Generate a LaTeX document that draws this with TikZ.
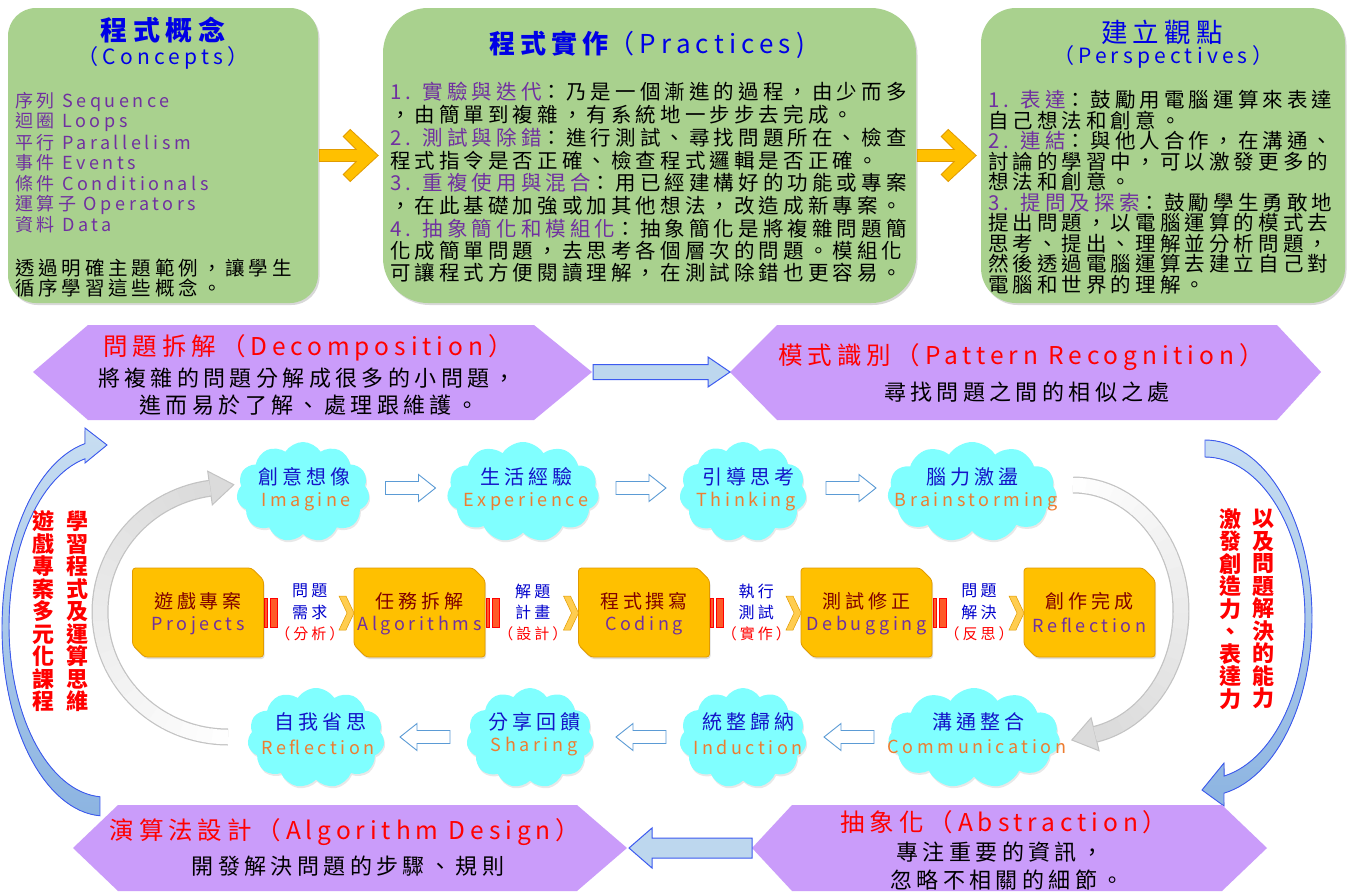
\documentclass[tikz,border=0pt]{standalone}
\usepackage{fontspec}
\setmainfont{Noto Sans CJK TC}[LetterSpace=20]
\usetikzlibrary{shapes.symbols,shadows}
\definecolor{gfill}{RGB}{169,209,142}
\definecolor{tblue}{RGB}{0,0,230}
\definecolor{pur}{RGB}{112,48,160}
\definecolor{hexf}{RGB}{202,156,250}
\definecolor{cyanf}{RGB}{128,255,255}
\definecolor{cblue}{RGB}{20,20,200}
\definecolor{corange}{RGB}{237,125,49}
\definecolor{obox}{RGB}{255,192,0}
\definecolor{oboxd}{RGB}{225,155,0}
\definecolor{dred}{RGB}{128,0,0}
\definecolor{abl}{RGB}{91,155,213}
\definecolor{lbl}{RGB}{189,215,238}
\definecolor{bline}{RGB}{60,90,240}
\definecolor{arcf}{RGB}{140,180,225}
\definecolor{arcl}{RGB}{200,222,242}
\definecolor{grl}{RGB}{195,195,195}
\definecolor{stripef}{RGB}{255,90,40}
\definecolor{chevf}{RGB}{255,205,80}
\definecolor{lblue}{RGB}{0,0,204}
\newcommand\fsz[1]{\fontsize{#1}{#1}\selectfont}
\newcommand\mkobox[4]{%
  \begin{scope}[shift={(#2,612.5)}]
    \filldraw[fill=obox,draw=oboxd,line width=0.8pt,rounded corners=3pt,
      drop shadow={shadow xshift=1pt,shadow yshift=-2pt,opacity=0.25}]
      (-65.5,-44.5) -- (53.5,-44.5) -- (65.5,-32.5) -- (65.5,44.5) -- (-53.5,44.5) -- (-65.5,32.5) -- cycle;
    \coordinate (#1) at (0,0);
    \node[inner sep=0pt,text=dred,font=\fsz{19}] (#1a) at (0,-11.5) {#3};
    \node[inner sep=0pt,text=pur,font=\fsz{18}] (#1b) at (0,13) {#4};
  \end{scope}}
\newcommand\mkgap[6]{%
  \filldraw[fill=stripef,draw=red,line width=0.6pt] ({#1+1},598) rectangle ({#1+4},627);
  \filldraw[fill=stripef,draw=red,line width=0.6pt] ({#1+7},598) rectangle ({#1+14},627);
  \filldraw[fill=chevf,draw=oboxd,line width=0.5pt] ({#2-15},596) -- ({#2-8},596) -- ({#2},613) -- ({#2-8},630) -- ({#2-15},630) -- ({#2-7},613) -- cycle;
  \node[inner sep=0pt,text=lblue,font=\fsz{16}] (#6a) at ({(#1+#2)/2+1},591) {#3};
  \node[inner sep=0pt,text=lblue,font=\fsz{16}] (#6b) at ({(#1+#2)/2+1},612) {#4};
  \node[inner sep=0pt,text=red,font=\fsz{15}] (#6c) at ({(#1+#2)/2+1},634) {#5};}
\newcommand\mkharrow[4]{%
  \begin{scope}[shift={(#2,#3)},xscale=#4]
    \filldraw[fill=white,draw=abl,line width=0.9pt] (-25,-6.5) -- (8,-6.5) -- (8,-13.5) -- (25,0) -- (8,13.5) -- (8,6.5) -- (-25,6.5) -- cycle;
    \coordinate (#1) at (0,0);
  \end{scope}}
\begin{document}
\begin{tikzpicture}[x=1pt,y=-1pt,
  tx/.style={inner sep=0pt,outer sep=0pt},
  gbox/.style={fill=gfill,draw=none,drop shadow={shadow xshift=1.5pt,shadow yshift=-2pt,opacity=0.3}},
  cloudn/.style={cloud,cloud puffs=11,cloud puff arc=115,cloud ignores aspect,fill=cyanf,draw=none,inner sep=0pt,
    drop shadow={shadow xshift=1pt,shadow yshift=-2pt,opacity=0.18}},
  hexa/.style={fill=hexf,draw=none},
  barrow/.style={fill=lbl,draw=bline,line width=1pt},
  oarrow/.style={fill=obox,draw=oboxd,line width=0.8pt},
  ccj/.style={tx,text=cblue,font=\fsz{20}},
  clat/.style={tx,text=corange,font=\fsz{18}},
  vt/.style={tx,text=red,align=center,font=\bfseries\fontsize{22}{22.5}\selectfont},
  htitle/.style={tx,text=red,font=\fsz{24.5}},
  hsub/.style={tx,text=black,font=\fsz{22}}]
\useasboundingbox (0,0) rectangle (1352,894);
\fill[white] (0,0) rectangle (1352,894);

% ---------- top green boxes ----------
\node[gbox,rounded corners=28pt,minimum width=310pt,minimum height=295pt] (box1) at (163,155.5) {};
\node[gbox,rounded corners=45pt,minimum width=533pt,minimum height=295pt] (box2) at (649.5,155.5) {};
\node[gbox,rounded corners=35pt,minimum width=364pt,minimum height=295pt] (box3) at (1163,155.5) {};

\filldraw[oarrow,shift={(box1.east)}] (1,-6) -- (38,-6) -- (25,-19) -- (32,-26) -- (60,0) -- (32,26) -- (25,19) -- (38,6) -- (1,6) -- cycle;
\filldraw[oarrow,shift={(box2.east)}] (1,-6) -- (38,-6) -- (25,-19) -- (32,-26) -- (60,0) -- (32,26) -- (25,19) -- (38,6) -- (1,6) -- cycle;

% box 1
\node[tx,text=tblue,font=\bfseries\fsz{27}] (b1t) at (163,30) {程式概念};
\node[tx,text=tblue,font=\fsz{21}] (b1s) at (163,58) {（Concepts）};
\foreach \i/\yy/\tx in {1/102/序列 Sequence,2/122/迴圈 Loops,3/143/平行 Parallelism,4/163/事件 Events,5/184/條件 Conditionals,6/205/運算子 Operators,7/225/資料 Data}
  \node[tx,anchor=west,text=pur,font=\fsz{18}] (b1l\i) at (15,\yy) {\tx};
\node[tx,anchor=west,font=\fsz{19.5}] (b1e1) at (15,268) {透過明確主題範例，讓學生};
\node[tx,anchor=west,font=\fsz{19.5}] (b1e2) at (15,288) {循序學習這些概念。};

% box 2
\node[tx,text=tblue,font=\fsz{26}] (b2t) at (647,45) {{\bfseries 程式實作}（Practices)};
\foreach \i/\yy/\tx in {1/92/{{\color{pur}1. 實驗與迭代}：乃是一個漸進的過程，由少而多},
  2/115/{，由簡單到複雜，有系統地一步步去完成。},
  3/138/{{\color{pur}2. 測試與除錯}：進行測試、尋找問題所在、檢查},
  4/161/{程式指令是否正確、檢查程式邏輯是否正確。},
  5/183/{{\color{pur}3. 重複使用與混合}：用已經建構好的功能或專案},
  6/206/{，在此基礎加強或加其他想法，改造成新專案。},
  7/229/{{\color{pur}4. 抽象簡化和模組化}：抽象簡化是將複雜問題簡},
  8/251/{化成簡單問題，去思考各個層次的問題。模組化},
  9/273/{可讓程式方便閱讀理解，在測試除錯也更容易。}}
  \node[tx,anchor=west,font=\fsz{20.5}] (b2l\i) at (390,\yy) {\tx};

% box 3
\node[tx,text=tblue,font=\fsz{26.5}] (b3t) at (1162,32) {建立觀點};
\node[tx,text=tblue,font=\fsz{21}] (b3s) at (1163,57) {（Perspectives）};
\foreach \i/\yy/\tx in {1/100/{{\color{pur}1. 表達}：鼓勵用電腦運算來表達},
  2/121/{自己想法和創意。},
  3/141/{{\color{pur}2. 連結}：與他人合作，在溝通、},
  4/162/{討論的學習中，可以激發更多的},
  5/182/{想法和創意。},
  6/203/{{\color{pur}3. 提問及探索}：鼓勵學生勇敢地},
  7/223/{提出問題，以電腦運算的模式去},
  8/244/{思考、提出、理解並分析問題，},
  9/264/{然後透過電腦運算去建立自己對},
  10/285/{電腦和世界的理解。}}
  \node[tx,anchor=west,font=\fsz{20.5}] (b3l\i) at (988,\yy) {\tx};

% ---------- blue crescent arrows ----------
\filldraw[top color=arcl,bottom color=arcf,draw=bline,line width=0.9pt]
  plot[domain=258.8:92.8,samples=60] ({105+103*cos(\x)},{628+188*sin(\x)})
  -- plot[domain=93:258,samples=60] ({105+96*cos(\x)},{626+171*sin(\x)})
  -- (85,463) -- (107,445) -- (85,428) -- cycle;
\filldraw[top color=arcl,bottom color=arcf,draw=bline,line width=0.9pt]
  plot[domain=270:439.8,samples=60] ({1205+107*cos(\x)},{618+178*sin(\x)})
  -- (1224,806) -- (1202,790) -- (1224,763)
  -- plot[domain=439:270,samples=60] ({1205+100*cos(\x)},{618+161*sin(\x)}) -- cycle;

% ---------- hexagons ----------
\fill[hexa] (33,372) -- (88,325) -- (534,325) -- (592,372) -- (534,420) -- (88,420) -- cycle;
\fill[hexa] (730,372) -- (777,325) -- (1277,325) -- (1321,372) -- (1277,420) -- (777,420) -- cycle;
\fill[hexa] (73,848) -- (118,805) -- (577,805) -- (627,848) -- (577,891) -- (118,891) -- cycle;
\fill[hexa] (752,848) -- (792,805) -- (1222,805) -- (1267,848) -- (1222,891) -- (792,891) -- cycle;
\coordinate (decR) at (592,372);
\coordinate (patL) at (730,372);
\coordinate (absL) at (752,848);
\coordinate (algR) at (629,848);
\filldraw[barrow] (decR) ++(1,-7.5) -- (708,364.5) -- (708,357) -- (patL) -- (708,387) -- (708,379.5) -- (593,379.5) -- cycle;
\filldraw[barrow] (absL) ++(0,-10) -- (652,838) -- (652,828) -- (algR) -- (652,868) -- (652,858) -- (752,858) -- cycle;

\node[htitle] (dect) at (308,348) {問題拆解（Decomposition）};
\node[hsub] (dec1) at (307,378) {將複雜的問題分解成很多的小問題，};
\node[hsub] (dec2) at (309,405) {進而易於了解、處理跟維護。};
\node[htitle] (patt) at (1021,357) {模式識別（Pattern Recognition）};
\node[hsub] (pat1) at (1027,392) {尋找問題之間的相似之處};
\node[htitle] (algt) at (345,832) {演算法設計（Algorithm Design）};
\node[hsub] (alg1) at (348,866) {開發解決問題的步驟、規則};
\node[htitle] (abst) at (1004,822) {抽象化（Abstraction）};
\node[hsub] (abs1) at (1000,852) {專注重要的資訊，};
\node[hsub] (abs2) at (1007,880) {忽略不相關的細節。};

% ---------- vertical texts ----------
\node[vt] (vl1) at (77.5,611.5) {學\\習\\程\\式\\及\\運\\算\\思\\維};
\node[vt] (vl2) at (43.5,611.5) {遊\\戲\\專\\案\\多\\元\\化\\課\\程};
\node[vt] (vr1) at (1263.5,609) {以\\及\\問\\題\\解\\決\\的\\能\\力};
\node[vt] (vr2) at (1230,609) {激\\發\\創\\造\\力\\、\\表\\達\\力};

% ---------- gray circular arrows (white tail to grey head) ----------
\draw[line width=17pt,color=grl] plot[domain=90:262,samples=60] ({228+128*cos(\x)},{612+125*sin(\x)});
\filldraw[fill=gray!28,draw=grl,line width=1pt] (207.7,471.2) -- (233.8,484.7) -- (212.3,504.8) -- cycle;
\foreach \k in {0,...,23}{
  \pgfmathsetmacro\aa{90+\k*7.1667}
  \pgfmathsetmacro\bb{min(\aa+8,262)}
  \pgfmathsetmacro\mm{1+\k*1.2}
  \draw[line width=14.5pt,color=gray!\mm] plot[domain=\aa:\bb,samples=6] ({228+128*cos(\x)},{612+125*sin(\x)});
}
\draw[line width=17pt,color=grl] plot[domain=270:438.2,samples=60] ({1073+108*cos(\x)},{611+126*sin(\x)});
\filldraw[fill=gray!28,draw=grl,line width=1pt] (1091.1,717.8) -- (1071.8,740.0) -- (1099.1,750.8) -- cycle;
\foreach \k in {0,...,23}{
  \pgfmathsetmacro\aa{270+\k*7.008}
  \pgfmathsetmacro\bb{min(\aa+8,438.2)}
  \pgfmathsetmacro\mm{1+\k*1.2}
  \draw[line width=14.5pt,color=gray!\mm] plot[domain=\aa:\bb,samples=6] ({1073+108*cos(\x)},{611+126*sin(\x)});
}

% ---------- clouds ----------
\node[cloudn,minimum width=133pt,minimum height=100pt] (c1) at (303,492) {};
\node[cloudn,minimum width=152pt,minimum height=100pt] (c2) at (523,492) {};
\node[cloudn,minimum width=127pt,minimum height=100pt] (c3) at (743,492) {};
\node[cloudn,minimum width=169pt,minimum height=100pt] (c4) at (972,492) {};
\node[cloudn,minimum width=137pt,minimum height=100pt] (d1) at (316,738) {};
\node[cloudn,minimum width=127pt,minimum height=100pt] (d2) at (530,738) {};
\node[cloudn,minimum width=127pt,minimum height=100pt] (d3) at (743,738) {};
\node[cloudn,minimum width=172pt,minimum height=100pt] (d4) at (974,738) {};

\node[ccj] (c1a) at (304,477) {創意想像};   \node[clat] (c1b) at (306,502) {Imagine};
\node[ccj] (c2a) at (526,477) {生活經驗};   \node[clat] (c2b) at (526,502) {Experience};
\node[ccj] (c3a) at (748,477) {引導思考};   \node[clat] (c3b) at (746,502) {Thinking};
\node[ccj] (c4a) at (972,477) {腦力激盪};   \node[clat] (c4b) at (976,502) {Brainstorming};
\node[ccj] (d1a) at (320,722) {自我省思};   \node[clat] (d1b) at (318,747) {Reflection};
\node[ccj] (d2a) at (534,722) {分享回饋};   \node[clat] (d2b) at (534,747) {Sharing};
\node[ccj] (d3a) at (748,722) {統整歸納};   \node[clat] (d3b) at (748,747) {Induction};
\node[ccj] (d4a) at (978,722) {溝通整合};   \node[clat] (d4b) at (977,747) {Communication};

\mkharrow{ha1}{410.5}{488}{1}
\mkharrow{ha2}{641}{488}{1}
\mkharrow{ha3}{851}{488}{1}
\mkharrow{hb1}{425}{737}{-1}
\mkharrow{hb2}{641}{737}{-1}
\mkharrow{hb3}{849}{737}{-1}

% ---------- middle orange boxes ----------
\mkobox{o1}{198}{遊戲專案}{Projects}
\mkobox{o2}{419.5}{任務拆解}{Algorithms}
\mkobox{o3}{644}{程式撰寫}{Coding}
\mkobox{o4}{866.5}{測試修正}{Debugging}
\mkobox{o5}{1089.5}{創作完成}{Reflection}
\mkgap{263.5}{354}{問題}{需求}{（分析）}{g1}
\mkgap{485}{578.5}{解題}{計畫}{（設計）}{g2}
\mkgap{709.5}{801}{執行}{測試}{（實作）}{g3}
\mkgap{932}{1024}{問題}{解決}{（反思）}{g4}
\end{tikzpicture}
\end{document}
